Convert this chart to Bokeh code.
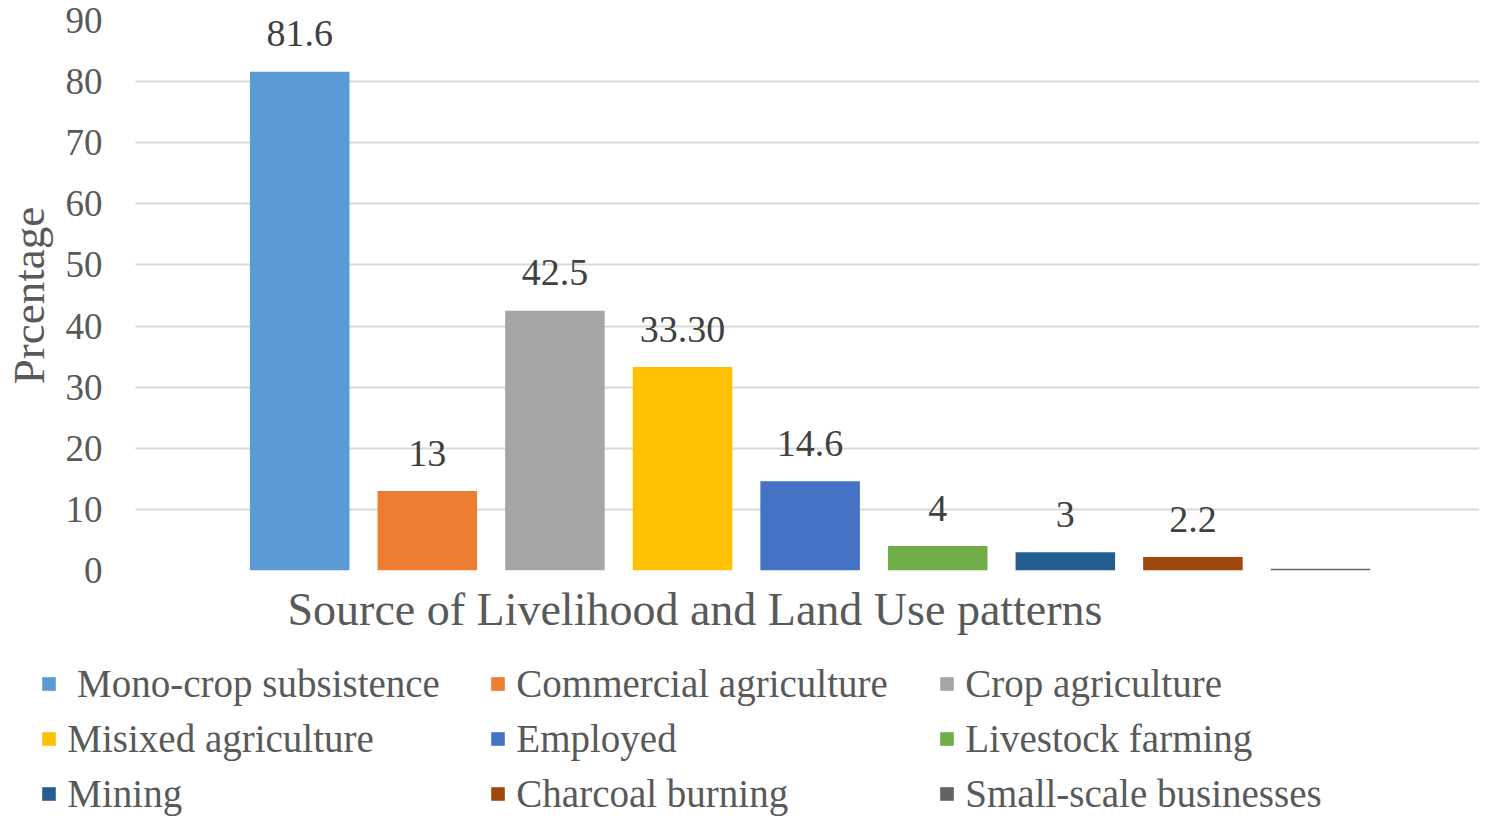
from bokeh.plotting import figure
from bokeh.layouts import column
from bokeh.models import ColumnDataSource, Legend, LegendItem, Title, FixedTicker, Grid
from bokeh.embed import file_html
from bokeh.resources import INLINE

categories = [" Mono-crop subsistence", "Commercial agriculture", "Crop agriculture",
              "Misixed agriculture", "Employed", "Livestock farming",
              "Mining", "Charcoal burning", "Small-scale businesses"]
values = [81.6, 13, 42.5, 33.3, 14.6, 4, 3, 2.2, 0.3]
value_labels = ["81.6", "13", "42.5", "33.30", "14.6", "4", "3", "2.2", ""]
colors = ["#5B9BD5", "#ED7D31", "#A5A5A5", "#FFC000", "#4472C4",
          "#70AD47", "#255E91", "#9E480E", "#636363"]
y_ticks = [0, 10, 20, 30, 40, 50, 60, 70, 80, 90]
x_title = "Source of Livelihood and Land Use patterns"
y_title = "Prcentage"

FONT = "Liberation Serif"
positions = list(range(len(categories)))
X_LO, X_HI = -1.285, 9.246          # extent of the gridlines
HAS_CROSS = "cross_bounds" in Grid.properties()
X_FRAME_LO = -1.389 if HAS_CROSS else X_LO
FRAME_W = 1357 if HAS_CROSS else 1344
BORDER_L = 120 if HAS_CROSS else 133

src = ColumnDataSource(dict(x=positions, top=values, color=colors,
                            lab=value_labels, name=categories))

# ---------------- main chart ----------------
p = figure(frame_width=FRAME_W, frame_height=550, output_backend="svg", toolbar_location=None,
           x_range=(X_FRAME_LO, X_HI), y_range=(0, 90),
           min_border_left=BORDER_L, min_border_right=1, min_border_top=20,
           min_border_bottom=88)
p.outline_line_color = None
p.background_fill_color = "white"

p.vbar(x="x", top="top", width=0.78, color="color", source=src, line_color=None)

p.text(x="x", y="top", text="lab", source=src, text_align="center",
       text_baseline="middle", y_offset=-38, text_font=FONT,
       text_font_size="38px", text_color="#404040")

p.xaxis.visible = False
p.xgrid.visible = False
p.ygrid.grid_line_color = "#D9D9D9"
p.ygrid.grid_line_width = 2
if HAS_CROSS:
    p.ygrid.cross_bounds = (X_LO, X_HI)

ya = p.yaxis[0]
ya.ticker = FixedTicker(ticks=y_ticks)
ya.axis_line_color = None
ya.major_tick_line_color = None
ya.minor_tick_line_color = None
ya.major_label_standoff = 14 if HAS_CROSS else 27
ya.major_label_text_font = FONT
ya.major_label_text_font_size = "37px"
ya.major_label_text_color = "#595959"
ya.axis_label = y_title
ya.axis_label_text_font = FONT
ya.axis_label_text_font_size = "45px"
ya.axis_label_text_font_style = "normal"
ya.axis_label_text_color = "#595959"
ya.axis_label_standoff = 9

p.add_layout(Title(text=x_title, align="left", offset=165 if HAS_CROSS else 152,
                   text_font=FONT, text_font_size="46px", text_font_style="normal",
                   text_color="#595959", standoff=23), "below")

# ---------------- legend strip ----------------
p2 = figure(frame_width=FRAME_W, height=160, output_backend="svg", toolbar_location=None,
            x_range=(0, 1), y_range=(1000, 2000),
            min_border_left=BORDER_L, min_border_right=1, min_border_top=0,
            min_border_bottom=0)
p2.outline_line_color = None
p2.axis.visible = False
p2.grid.visible = False
r2 = p2.vbar(x="x", top="top", width=0.78, color="color", source=src, line_color=None)

ncols = 3
nrows = len(categories) // ncols
order = [r * ncols + c for c in range(ncols) for r in range(nrows)]  # row-major display
items = [LegendItem(label=categories[i], renderers=[r2], index=i) for i in order]
legend = Legend(items=items, ncols=ncols, location="top_left",
                glyph_width=17, glyph_height=17, label_standoff=10,
                label_height=50, label_width=417, spacing=5, padding=0, margin=0,
                border_line_color=None, background_fill_alpha=0,
                label_text_font=FONT, label_text_font_size="39px",
                label_text_color="#595959")
p2.add_layout(legend, "center")

layout = column(p, p2, spacing=0)
open("out.html", "w").write(file_html(layout, INLINE))
